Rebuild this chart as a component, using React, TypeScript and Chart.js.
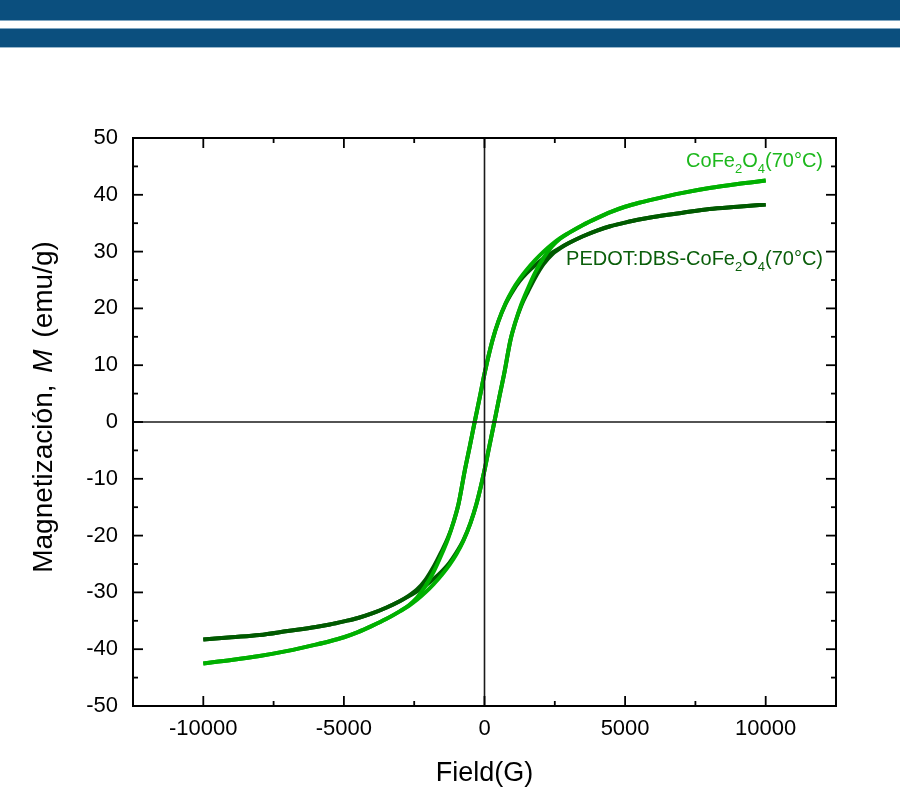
import React, { useEffect, useRef } from "react";
import { Chart, registerables } from "chart.js";

Chart.register(...registerables);

// ---- Data ----
// CoFe2O4(70°C) — descending (upper) branch
const coFeUpperH = [-10000, -9000, -8000, -7000, -6000, -5500, -5000, -4500, -4000, -3500, -3000, -2700, -2400, -2100, -1800, -1550, -1300, -1100, -922, -700, -520, -350, -175, 0, 284, 500, 750, 1000, 1250, 1500, 1800, 2100, 2400, 2700, 3000, 3500, 4000, 4500, 5000, 5500, 6000, 7000, 8000, 9000, 10000];
const coFeUpperM = [-42.5, -41.9, -41.2, -40.3, -39.2, -38.6, -37.9, -37.0, -35.9, -34.7, -33.3, -32.3, -30.9, -28.9, -26.3, -23.6, -20.6, -17.6, -14.4, -8.5, -4.2, 0, 4.2, 8.5, 14.4, 17.8, 20.9, 23.3, 25.2, 26.8, 28.5, 30.0, 31.3, 32.4, 33.3, 34.7, 35.9, 37.0, 37.9, 38.6, 39.2, 40.3, 41.2, 41.9, 42.5];
// CoFe2O4(70°C) — ascending (lower) branch
const coFeLowerH = [-10000, -9000, -8000, -7000, -6000, -5500, -5000, -4500, -4000, -3500, -3000, -2700, -2400, -2100, -1800, -1500, -1250, -1000, -750, -500, -284, 0, 175, 350, 520, 700, 922, 1100, 1300, 1550, 1800, 2100, 2400, 2700, 3000, 3500, 4000, 4500, 5000, 5500, 6000, 7000, 8000, 9000, 10000];
const coFeLowerM = [-42.5, -41.9, -41.2, -40.3, -39.2, -38.6, -37.9, -37.0, -35.9, -34.7, -33.3, -32.4, -31.3, -30.0, -28.5, -26.8, -25.2, -23.3, -20.9, -17.8, -14.4, -8.5, -4.2, 0, 4.2, 8.5, 14.4, 17.6, 20.6, 23.6, 26.3, 28.9, 30.9, 32.3, 33.3, 34.7, 35.9, 37.0, 37.9, 38.6, 39.2, 40.3, 41.2, 41.9, 42.5];

// PEDOT:DBS-CoFe2O4(70°C) — descending (upper) branch
const pedotUpperH = [-10000, -9000, -8000, -7000, -6000, -5500, -5000, -4500, -4000, -3500, -3000, -2700, -2400, -2100, -1800, -1550, -1300, -1100, -922, -700, -520, -350, -175, 0, 284, 500, 750, 1000, 1250, 1500, 1800, 2100, 2400, 2700, 3000, 3500, 4000, 4500, 5000, 5500, 6000, 7000, 8000, 9000, 10000];
const pedotUpperM = [-38.3, -37.9, -37.5, -36.8, -36.1, -35.65, -35.1, -34.5, -33.7, -32.7, -31.5, -30.6, -29.5, -27.8, -25.4, -23.0, -20.4, -17.6, -14.4, -8.5, -4.2, 0, 4.2, 8.5, 14.4, 17.8, 20.8, 23.0, 24.8, 26.2, 27.6, 28.8, 29.8, 30.7, 31.5, 32.7, 33.7, 34.5, 35.1, 35.65, 36.1, 36.8, 37.5, 37.9, 38.3];
// PEDOT:DBS-CoFe2O4(70°C) — ascending (lower) branch
const pedotLowerH = [-10000, -9000, -8000, -7000, -6000, -5500, -5000, -4500, -4000, -3500, -3000, -2700, -2400, -2100, -1800, -1500, -1250, -1000, -750, -500, -284, 0, 175, 350, 520, 700, 922, 1100, 1300, 1550, 1800, 2100, 2400, 2700, 3000, 3500, 4000, 4500, 5000, 5500, 6000, 7000, 8000, 9000, 10000];
const pedotLowerM = [-38.3, -37.9, -37.5, -36.8, -36.1, -35.65, -35.1, -34.5, -33.7, -32.7, -31.5, -30.7, -29.8, -28.8, -27.6, -26.2, -24.8, -23.0, -20.8, -17.8, -14.4, -8.5, -4.2, 0, 4.2, 8.5, 14.4, 17.6, 20.4, 23.0, 25.4, 27.8, 29.5, 30.6, 31.5, 32.7, 33.7, 34.5, 35.1, 35.65, 36.1, 36.8, 37.5, 37.9, 38.3];

// Ticks
const xMajorTicks = [-10000, -5000, 0, 5000, 10000];
const xMinorTicks = [-7500, -2500, 2500, 7500];
const yMajorTicks = [-50, -40, -30, -20, -10, 0, 10, 20, 30, 40, 50];
const yMinorTicks = [-45, -35, -25, -15, -5, 5, 15, 25, 35, 45];

const LIGHT = "#00b000";
const DARK = "#005a00";
const FONT = '"Liberation Sans", Arial, Helvetica, sans-serif';

const toPts = (hs: number[], ms: number[]) => hs.map((h, i) => ({ x: h, y: ms[i] }));

type Part = { t: string; sub?: boolean };
const coFeLabel: Part[] = [{ t: "CoFe" }, { t: "2", sub: true }, { t: "O" }, { t: "4", sub: true }, { t: "(70°C)" }];
const pedotLabel: Part[] = [{ t: "PEDOT:DBS-CoFe" }, { t: "2", sub: true }, { t: "O" }, { t: "4", sub: true }, { t: "(70°C)" }];

function drawRich(ctx: CanvasRenderingContext2D, parts: Part[], right: number, base: number, color: string) {
  const main = `20px ${FONT}`;
  const sub = `13px ${FONT}`;
  let w = 0;
  for (const p of parts) {
    ctx.font = p.sub ? sub : main;
    w += ctx.measureText(p.t).width;
  }
  let x = right - w;
  ctx.fillStyle = color;
  ctx.textAlign = "left";
  ctx.textBaseline = "alphabetic";
  for (const p of parts) {
    ctx.font = p.sub ? sub : main;
    ctx.fillText(p.t, x, p.sub ? base + 6 : base);
    x += ctx.measureText(p.t).width;
  }
}

const decor = {
  id: "decor",
  afterDatasetsDraw(chart: any) {
    const { ctx, chartArea: a, scales } = chart;
    const xs = scales.x;
    const ys = scales.y;
    ctx.save();
    const seg = (x1: number, y1: number, x2: number, y2: number) => {
      ctx.beginPath();
      ctx.moveTo(x1, y1);
      ctx.lineTo(x2, y2);
      ctx.stroke();
    };
    // zero lines
    ctx.strokeStyle = "#1a1a1a";
    ctx.lineWidth = 1.6;
    const x0 = xs.getPixelForValue(0);
    const y0 = ys.getPixelForValue(0);
    seg(x0, a.top, x0, a.bottom);
    seg(a.left, y0, a.right, y0);
    // frame
    ctx.strokeStyle = "#000";
    ctx.lineWidth = 2;
    ctx.strokeRect(a.left, a.top, a.right - a.left, a.bottom - a.top);
    // ticks (inward)
    ctx.lineWidth = 1.8;
    const MAJ = 10;
    const MIN = 5;
    for (const v of xMajorTicks) {
      const p = xs.getPixelForValue(v);
      seg(p, a.bottom, p, a.bottom - MAJ);
      seg(p, a.top, p, a.top + MAJ);
    }
    for (const v of xMinorTicks) {
      const p = xs.getPixelForValue(v);
      seg(p, a.bottom, p, a.bottom - MIN);
      seg(p, a.top, p, a.top + MIN);
    }
    for (const v of yMajorTicks) {
      const p = ys.getPixelForValue(v);
      seg(a.left, p, a.left + MAJ, p);
      seg(a.right, p, a.right - MAJ, p);
    }
    for (const v of yMinorTicks) {
      const p = ys.getPixelForValue(v);
      seg(a.left, p, a.left + MIN, p);
      seg(a.right, p, a.right - MIN, p);
    }
    // labels
    drawRich(ctx, coFeLabel, 823, 167, "#1db81d");
    drawRich(ctx, pedotLabel, 823, 265, "#0a5e0a");
    // axis titles
    ctx.fillStyle = "#000";
    ctx.font = `27px ${FONT}`;
    ctx.textAlign = "center";
    ctx.textBaseline = "alphabetic";
    ctx.fillText("Field(G)", (a.left + a.right) / 2, 781);

    ctx.translate(52, 407);
    ctx.rotate(-Math.PI / 2);
    const p1 = "Magnetización, ";
    const p2 = "M";
    const p3 = " (emu/g)";
    const fN = `28px ${FONT}`;
    const fI = `italic 28px ${FONT}`;
    ctx.font = fN;
    const w1 = ctx.measureText(p1).width + 4;
    const w3 = ctx.measureText(p3).width + 4;
    ctx.font = fI;
    const w2 = ctx.measureText(p2).width;
    let xx = -(w1 + w2 + w3) / 2;
    ctx.textAlign = "left";
    ctx.font = fN;
    ctx.fillText(p1, xx, 0);
    xx += w1;
    ctx.font = fI;
    ctx.fillText(p2, xx, 0);
    xx += w2 + 4;
    ctx.font = fN;
    ctx.fillText(p3, xx, 0);
    ctx.restore();
  },
};

export default function App() {
  const ref = useRef<HTMLCanvasElement | null>(null);
  useEffect(() => {
    if (!ref.current) return;
    const line = (data: { x: number; y: number }[], color: string) => ({
      data,
      borderColor: color,
      backgroundColor: color,
      borderWidth: 4,
      showLine: true,
      pointRadius: 0,
      fill: false,
      cubicInterpolationMode: "monotone" as const,
    });
    const chart = new Chart(ref.current, {
      type: "scatter",
      data: {
        datasets: [
          line(toPts(coFeUpperH, coFeUpperM), LIGHT),
          line(toPts(coFeLowerH, coFeLowerM), LIGHT),
          line(toPts(pedotUpperH, pedotUpperM), DARK),
          line(toPts(pedotLowerH, pedotLowerM), DARK),
        ],
      },
      options: {
        animation: false,
        responsive: false,
        devicePixelRatio: 1,
        layout: { padding: { top: 138, right: 64, left: 0, bottom: 0 } },
        plugins: { legend: { display: false }, tooltip: { enabled: false } },
        scales: {
          x: {
            type: "linear",
            min: -12500,
            max: 12500,
            grid: { display: false, drawTicks: false },
            border: { display: false },
            afterFit: (s: any) => {
              s.height = 93;
            },
            afterBuildTicks: (s: any) => {
              s.ticks = xMajorTicks.map((v) => ({ value: v }));
            },
            ticks: {
              color: "#000",
              padding: 10,
              maxRotation: 0,
              font: { family: FONT, size: 22 },
              callback: (v: any) => String(v),
            },
          },
          y: {
            type: "linear",
            min: -50,
            max: 50,
            grid: { display: false, drawTicks: false },
            border: { display: false },
            afterFit: (s: any) => {
              s.width = 133;
            },
            afterBuildTicks: (s: any) => {
              s.ticks = yMajorTicks.map((v) => ({ value: v }));
            },
            ticks: {
              color: "#000",
              padding: 15,
              font: { family: FONT, size: 22 },
              callback: (v: any) => String(v),
            },
          },
        },
      },
      plugins: [decor],
    });
    return () => chart.destroy();
  }, []);

  return (
    <div style={{ position: "absolute", left: 0, top: 0, width: 900, height: 799, background: "#fff", overflow: "hidden" }}>
      <div style={{ position: "absolute", left: 0, top: 0, width: 900, height: 20, background: "#0b4f7e", borderBottom: "1px solid #7fa6c2" }} />
      <div style={{ position: "absolute", left: 0, top: 28, width: 900, height: 18, background: "#0b4f7e", borderTop: "1px solid #7fa6c2", borderBottom: "1px solid #9ab8cc" }} />
      <canvas ref={ref} width={900} height={799} style={{ position: "absolute", left: 0, top: 0 }} />
    </div>
  );
}
